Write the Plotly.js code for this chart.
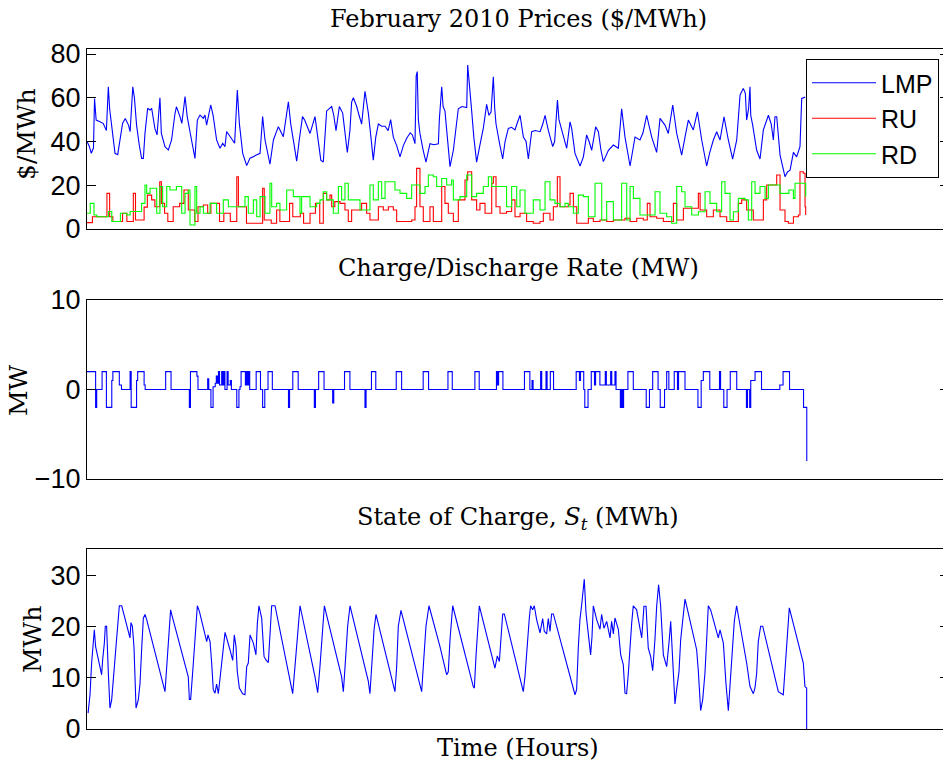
<!DOCTYPE html>
<html><head><meta charset="utf-8">
<script src="https://cdn.plot.ly/plotly-3.0.1.min.js"></script>
<style>html,body{margin:0;padding:0;overflow:hidden;background:#fff}#chart{width:960px;height:768px}</style>
</head><body><div id="chart"></div>
<script>
// ---------- data (hours of February 2010) ----------
const lmpHours = [0,2,4,6,7,8.5,12,15,18,19.8,21,23,24.4,26,28.5,30.6,33,35.5,38.5,40,42.5,44,46,48.5,50.7,52.3,53.8,56.3,58.5,60,63,65,67.7,69,72.4,75.5,78.5,81.7,83,86.3,88,91,93,97,100.2,102.4,104.9,108,109.5,111,114.8,117,120.3,123.4,126,128,129.6,135,137,139.5,141.4,144.5,148.2,151.3,157.5,160.6,163,165.2,169.8,173,177.6,179,182.2,186.9,189,193,194.6,197,200,202,207,211.6,213.8,217,219.3,222.4,227.1,229,231.1,234.2,237.3,239.5,241.6,244,245.6,247.2,250.3,252.5,254.9,258,261.1,263.5,265.7,268,270.4,273.5,276.6,279.5,281.8,284.3,287.5,290.5,293.5,296.7,300,302,304.4,305.5,306.5,307.5,309,312,314.6,318.3,322,326.1,327,329.2,330.5,332.2,334.5,336.9,340,342,344.6,348,352.4,353.3,354.5,357,359,361.6,364.5,367.8,370.9,373,375,377.1,378.4,379.6,383.3,385.8,388,391,394,397.2,399,401.9,405,407.5,409.6,412.7,416,420.5,423,425.1,428.2,430,432.2,434,436.6,438,440.6,443.5,445.2,448.3,449.8,452.9,457.6,460.7,463.7,466,468.4,472.1,474.6,477,479.2,483.9,488.5,493.1,496.2,499.3,504,508.6,513.2,516,519.4,524.1,528.7,531.8,536.4,539.5,543.6,547.3,551.9,555,558.1,562.7,566.5,570.5,575.1,578,581.3,584.4,587.5,591.2,595.2,599.2,603,606.1,609.1,611,612.2,614,615.3,616,617.8,621.5,624.6,627.7,632.4,635,637,638.5,640.1,643.2,647.8,650,652.5,655.6,658.6,661.7,663.3,666.5];
const lmpPrices = [40,38,34.6,37,59.7,49.8,49,48.3,45,65,55,47.5,41,34.6,34,41.5,48.3,50.5,47.5,44.5,65,60,47.5,38.4,32.3,32.3,43.7,55.2,54.4,55.2,46,43,60,43.7,37.6,36.1,40.7,52.9,55.9,51.4,48.3,60.5,51.4,40.7,32.3,49.8,52.1,50.6,52.1,47.5,56.7,52.1,40.7,36.9,39.2,37.6,44.6,40.7,39.2,63.5,48.3,34.6,29,32.4,33.8,34.6,51.4,40.7,29.6,40.7,46.8,45.3,42.2,58.2,48.3,36.1,31,40.7,51.4,49.8,43.7,51.4,42.2,31.5,30.6,54,56,52,45,56,53,44,35,45,58,60,56,52,48,63,53,42,31.5,42,48,47,47,45,50,42,38,33,38,41.5,44,43,39,70,72,50,43.7,36,30.6,39,38.5,39,50,65,56,54,40,28.5,36,44,55,56,55.5,75,69,54,42,30.6,38,46,57,52,53.5,69.6,55,48,38,32,40,46,46.5,45.3,48,52,42,40,32,44.5,45,44.5,48,52,45,42,37.7,40,59,50,45,40,36.9,49,46,34.6,28.8,33,43,40,36,46.7,44.5,36,30.8,36,38.4,36.9,55,42,28.8,42,40.7,44,52,42,35,50.6,47.5,43.7,56.7,43.7,33.8,42,49.8,45.3,53.6,40.7,28.8,35,40.7,44.5,40.7,51.3,40.7,32,40.7,61.3,64.3,62,49.8,55,65,52,47.5,36,32,45.3,52,48,40.7,51.3,51.3,33.8,23.9,26,26.9,35,33,37.7,59.7,60.3];

const ruHours = [0,5,18.5,21,24,33,37,43,45,53,56,60,63,67.5,69,72,75,80,86,90,94,100,103,108,112,115,123,127,133,139,140.5,148,163,164.5,171,176,179,188,191,198,201,207,212,216,219.3,222.4,225.5,227.1,230,234.8,239.4,242.5,245.6,254.9,259.5,262.6,270.4,275,279.7,284.3,287.4,301.3,304.4,305.9,309,312.1,318.3,321.4,329.2,332.2,335.3,340,344.6,350.8,353.3,357,361.6,364.7,369.4,375.6,377.1,379.6,383.3,389.4,394.1,397.2,401.9,408,414.2,420.4,423.5,429.7,432.8,436.5,439,446.7,448.3,451.4,454.5,465.3,469.9,476.1,482.3,488.5,499.3,504,510.2,516.3,520,522.5,528.7,534.9,544.2,547.3,553.5,567.4,569,575.1,581.3,587.5,593.7,604.5,607.6,612.2,618.4,627.7,630.8,640.1,643.2,647.8,650.9,655.6,660.2,661.7,664.8,666.4,667];
const ruPrices = [2.9,5.6,16.3,5.6,3.4,7.2,3.4,16.3,4.1,10,15.5,13.3,10.2,21.6,11.7,7.2,3.4,10.2,11.7,17.8,8.7,3.4,10.2,11,7.2,11.7,3.4,7.2,3.4,23.9,10.2,2.6,18.6,4.1,2.6,8.7,3.4,11.7,5.6,7.2,2.6,7.2,11.7,2.6,16.3,13.3,15.5,10.2,12.5,11.7,8.7,3.4,8.7,11.7,7.2,4.1,10.2,8.7,10.2,8.7,3.4,4.1,10.2,27.7,10.2,3.4,10.2,3.4,19.4,11.7,7.2,3.4,13.3,22.4,26.2,13.3,8.7,11.7,7.2,20.9,23.9,10.2,7.2,8,13.3,5.6,7.2,3.4,2.6,3.4,7.2,4.1,10.2,23.9,10.2,11,16.3,10.2,2.6,4.9,3.4,4.1,3.4,4.1,4.9,3.4,4.9,4.1,11.7,5.6,4.9,3.4,11.7,4.1,9.5,16.3,8.7,5.6,8.7,5.6,3.4,11.7,13.3,8.7,4.1,13.3,20.1,24.7,8.7,3.4,2.6,5.6,6.4,26.2,25.5,10.2,6.4];

const rdHours = [0,3,6.5,9,20,23,31,37,40,50.7,53.8,55.4,58.5,64.7,67.7,70.2,74,77,83,87.9,91,94,95.6,100.2,101.8,104.9,108,114.2,120.3,126.5,131.2,146.6,149.7,154.4,157.5,160.6,165.2,169.8,171.4,176,179.1,185.3,191.5,197.7,199.2,207,213.1,216.2,219.3,222.4,228.6,233.3,236.3,239.4,242.5,253.4,262.6,265.7,270.4,273.5,276.6,285.8,290.5,296.7,301.3,309,313.7,316.8,321.4,324.5,329.2,333.8,338.4,340,346.2,352.4,357,361.6,367.8,372.5,375.6,389.4,394.1,398.8,401.9,406.5,414.2,420.4,425.1,429.7,434.3,439,443.6,446.7,451.4,456,460.7,465.3,471.5,477.7,482.3,488.5,496.2,500.9,504,507.1,513.2,527.2,531.8,538,542.6,547.3,551.9,555,561.2,567.4,573.6,578.2,584.4,589,592.1,596.8,599.9,604.5,610.7,613.8,616.9,620,624.6,629.3,632.4,643.2,651.4,655.6,657.1,666.4,667];
const rdPrices = [7.2,11.7,6.4,5.6,8,3.4,7.2,6.4,8,11.7,20.1,16.3,18.6,7.2,19.4,10.2,19.4,17.8,19.4,7.2,16.3,17.8,1.8,19.4,7.2,10.2,7.2,11.7,7.2,13.3,10.2,14.8,7.2,13.3,5.6,14.8,7.2,20.9,10.2,11.7,8.7,17.8,14.8,7.2,14.8,10.2,11.7,13.3,17,13.3,7.2,19.4,13.3,20.9,13.3,8.7,20.1,13.3,21.6,14,21.6,17.8,16.3,14,20.1,16.3,19.4,24.7,23.9,19.4,23.1,20.1,22.4,13.3,14.8,24.7,14.8,16.3,19.4,23.9,19.4,10.2,19.4,10.2,17.8,7.2,13.3,8.7,21.6,13.3,11.7,10.2,11.7,10.2,7.2,15.5,14.8,5.6,20.9,4.1,12.5,4.1,20.9,4.1,19.4,14,6.4,17,7.2,5.6,2.6,19.4,17,10.2,6.4,7.9,17,11.7,7.9,21.6,16.3,4.1,7.9,14,13.3,4.1,21.6,16.3,19.4,14,20.1,16.3,17.8,14,20.9,20.9,14.8];

const rateHours = [0,8,9,14,18,23,24,30,32,40,41,46,47,53,54,73,78,95,96,102,103,112,113,115,117,119,120,121,122,123,125,126,127,128,130,131,133,134,139,141,142,143,147,148,149,150,151,157,161,163,165,168,172,187,188,191,196,211,212,215,220,228,229,239,244,258,259,264,268,287,292,312,317,335,339,360,364,380,381,382,386,406,411,413,414,421,422,426,427,430,433,454,457,458,461,462,465,468,471,472,476,481,482,486,487,490,491,495,496,497,498,502,507,519,522,525,530,532,536,538,540,545,548,549,555,567,570,572,578,587,588,591,594,597,603,612,613,615,616,620,626,643,646,652,665,668];
const rateMW = [2,-2,0,2,-2,1,2,0.5,0,2,-2,1,2,0.5,0,2,0,-2,2,1.5,0,1.2,0,-2,0.3,0.7,1.5,0.7,2,0.5,2,0.5,2,0,2,0.5,1,0,-2,0,0.3,2,0.5,2,0.5,2,0,2,0,-2,0,2,0,-2,0,2,0,-2,0,2,0,-1.5,0,2,0,-2,0,2,0,2,0,2,0,2,0,2,0,2,0.5,2,0,2,0,1,0,2,0,2,0,2,0,2,1,2,0,-2,0,2,0.5,2,0.5,2,0.5,2,0.5,2,0,-2,0,-2,0,2,0,-2,0,2,0,-2,0,2,0,2,0,2,0,-2,1,2,0,2,0,-2,0,2,0,-2,0,-2,1,2,0,0.5,2,0,-2,-8];

const socHours = [1,2.8,4.3,5.9,6.8,8,10.5,13.6,14.5,16.1,17,18.2,19.8,21.3,22.9,24.4,26.6,28.5,30,32.2,35.3,39.9,40.8,42.1,43.6,44.5,45.5,47.6,49.2,50.7,52.3,53.8,55.4,72.4,74.6,76.4,77.6,78.6,94,95,96.2,98.7,101.2,102.4,104.3,111.1,112.3,114.2,115.7,117.2,118.8,120.3,121.9,123.4,125,126.5,128.1,132.7,135.2,136.7,138.3,139.5,141.4,144.5,146.6,148.2,149.7,151.3,154.4,156.8,158.1,159.6,162.1,164.3,166.1,168.3,169.8,171.4,174.5,188.4,190.9,193,196.1,197.7,211.6,214.1,216.2,218.7,220.3,236.3,237.9,239.5,241.9,244.1,261.1,262.6,264.2,266.4,268.2,285.8,287.4,288.9,291.4,310.6,312.1,314.6,317.4,327.6,333.8,335.3,336.9,338.4,339.4,358.5,359.5,361,362.6,364.1,378.6,380.8,382.7,384.2,385.8,387.3,404.9,406.5,408.7,410.5,411.7,413.6,415.1,417.3,420.4,422.9,424.4,426.6,428.1,429.7,431.2,432.8,452.9,454.4,456,457.5,459.1,460.6,461.5,463.1,465.3,467.4,468.7,469.9,473,476.1,477.6,479.8,482.3,485.4,486.9,488.5,490,493.1,495.3,497.7,499.3,500.8,502.4,503.9,505.5,507,510.1,514.8,516.9,518.8,520.9,523.1,525,527.1,528.7,530.5,532.4,534.9,538,540.4,541.7,542.6,544.2,545.7,547.2,549.4,551,552.5,555,556.5,565.8,567.4,569.5,571.4,573.5,575.1,576.6,578.8,585.9,587.5,589,590.6,593,595.2,596.7,599.2,600.8,602.9,612.2,615.3,618.4,619.9,621.5,623,625.2,627.1,641.6,646.2,647.8,649.3,651.8,664.8,666.3,667.9,667.9];
const socMWh = [3.1,6.7,12.9,16.2,19.4,16.1,13.9,10.6,13.5,16.8,20.1,20.1,11,4.1,5.7,9.6,14.5,21,24.1,24.1,21.4,17.8,20.8,20.1,16.1,10.2,4.1,5.7,8.9,15.5,21.7,22.4,21.4,7.3,13.9,20.1,23.3,22.4,10.2,5.8,5.8,12.9,22,24.1,23,17.1,18.4,17.1,12.9,7.7,7,8.8,6.9,9.6,12.9,15.5,18.9,15.5,13.4,18.4,16.1,11.2,8,6.9,6.7,12.2,12.9,18.4,16.8,14.5,20.7,24.1,21.7,14.2,13.5,13,18.1,24.1,24.1,9.6,6.9,12.2,19.4,24.1,10.2,7.1,12.2,19.4,24.1,10.2,7.3,12.2,20.1,24.1,9.3,6.9,12.2,19.4,22.4,7.3,12.2,20.1,23.2,7.3,12.2,20.1,24.1,16.1,10.6,11.2,17.5,21.1,24.1,8.3,8,14.2,20.7,24.1,11.9,14.3,13.2,18.8,22.5,22.5,7.3,10.3,17.5,21.7,24.1,23.3,24.1,21.4,18.8,21.6,19.1,18.6,21.6,19.1,22.5,22.5,6.7,7.7,16.1,21.4,24.3,27.4,29.3,22.7,18.1,14.5,18.1,24.1,21.4,19.5,22.4,19.7,21.05,17.8,21.05,18.6,21.7,19.5,14.5,12.6,7,6.9,10.9,16.5,20.7,24.1,23.3,17.8,24,24,15.8,14.2,11.4,17.5,24,28.2,24,14.5,12.2,17.5,21.05,17.5,9.3,4.9,7.7,11.2,17.5,21.05,25.4,24.1,15.5,11.2,3.6,5.7,10.9,17.5,24.1,23.3,17.8,19.4,18.1,16.8,8.9,3.6,8.3,16.1,21.2,24.1,12.9,8.3,6.9,8,10.9,17.1,20.1,20.1,7.3,6.7,11.2,16.8,23.7,12.9,8.3,8,0];

const priceTicks = [0,20,40,60,80];
const rateTicks = [-10,0,10];
const socTicks = [0,10,20,30];

// ---------- styling ----------
const serif = 'DejaVu Serif, serif';
const sans = 'Liberation Sans, Arial, sans-serif';
const H = 768;
const py = p => 1 - p / H;          // pixel row -> paper y
const px = p => (p - 87) / 862;     // pixel column -> paper x

const xCommon = {range:[0,800], showticklabels:false, ticks:'', showline:true, mirror:true,
  linecolor:'black', linewidth:1, showgrid:false, zeroline:false, fixedrange:true};
const yCommon = {ticks:'inside', ticklen:9, tickwidth:1, tickcolor:'black', mirror:'allticks',
  showline:true, linecolor:'black', linewidth:1, showgrid:false, zeroline:false,
  tickfont:{family:sans, size:27, color:'black'}, fixedrange:true};

const traces = [
  {x:lmpHours, y:lmpPrices, name:'LMP', mode:'lines', line:{color:'#0000ff', width:1.1}, xaxis:'x', yaxis:'y'},
  {x:ruHours, y:ruPrices, name:'RU', mode:'lines', line:{color:'#ff0000', width:1.1, shape:'hv'}, xaxis:'x', yaxis:'y'},
  {x:rdHours, y:rdPrices, name:'RD', mode:'lines', line:{color:'#00ff00', width:1.1, shape:'hv'}, xaxis:'x', yaxis:'y'},
  {x:rateHours, y:rateMW, name:'Rate', mode:'lines', showlegend:false, line:{color:'#0000ff', width:1.1, shape:'hv'}, xaxis:'x2', yaxis:'y2'},
  {x:socHours, y:socMWh, name:'SOC', mode:'lines', showlegend:false, line:{color:'#0000ff', width:1.1}, xaxis:'x3', yaxis:'y3'}
];

const ann = (text, x, y, size, angle) => ({text, x, y, xref:'paper', yref:'paper', showarrow:false,
  xanchor:'center', yanchor:'middle', textangle:angle||0, font:{family:serif, size, color:'black'}});

const layout = {
  width:960, height:768, margin:{l:87, r:11, t:0, b:0},
  paper_bgcolor:'white', plot_bgcolor:'white', showlegend:true,
  xaxis: Object.assign({}, xCommon, {anchor:'y'}),
  xaxis2: Object.assign({}, xCommon, {anchor:'y2'}),
  xaxis3: Object.assign({}, xCommon, {anchor:'y3'}),
  yaxis: Object.assign({}, yCommon, {domain:[py(229), py(49)], range:[0,82.3], tickvals:priceTicks}),
  yaxis2: Object.assign({}, yCommon, {domain:[py(479), py(300)], range:[-10,10], tickvals:rateTicks}),
  yaxis3: Object.assign({}, yCommon, {domain:[py(729), py(549)], range:[0,35.2], tickvals:socTicks}),
  legend:{x:px(939), xanchor:'right', y:py(59), yanchor:'top', bgcolor:'white', bordercolor:'black',
    borderwidth:1, itemwidth:64, font:{family:sans, size:25, color:'black'}},
  annotations:[
    ann('February 2010 Prices ($/MWh)', 0.5, py(19), 24),
    ann('Charge/Discharge Rate (MW)', 0.5, py(268), 24),
    ann('State of Charge, <i>S</i><sub><i>t</i></sub> (MWh)', 0.5, py(518), 24),
    ann('Time (Hours)', 0.5, py(748), 24),
    ann('$/MWh', px(27), py(134), 25, -90),
    ann('MW', px(18), py(390), 25, -90),
    ann('MWh', px(32), py(639), 25, -90)
  ]
};

Plotly.newPlot('chart', traces, layout, {displayModeBar:false, staticPlot:true});
</script>
</body></html>
